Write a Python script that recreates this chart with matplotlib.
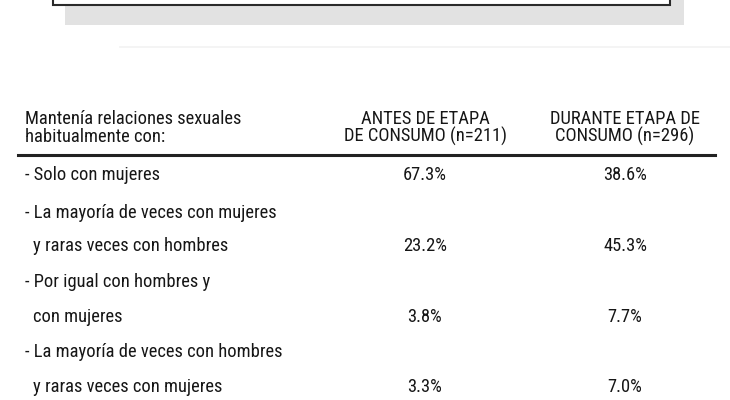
import matplotlib.pyplot as plt
from matplotlib.patches import Rectangle

plt.rcParams['font.family'] = ['Roboto Condensed', 'DejaVu Sans']

header_left = ['Mantenía relaciones sexuales', 'habitualmente con:']
col_headers = [['ANTES DE ETAPA', 'DE CONSUMO (n=211)'],
               ['DURANTE ETAPA DE', 'CONSUMO (n=296)']]

# each category label may span two printed lines; values go on the last line
categories = [['- Solo con mujeres'],
              ['- La mayoría de veces con mujeres', 'y raras veces con hombres'],
              ['- Por igual con hombres y', 'con mujeres'],
              ['- La mayoría de veces con hombres', 'y raras veces con mujeres']]
antes = [67.3, 23.2, 3.8, 3.3]
durante = [38.6, 45.3, 7.7, 7.0]

header_ys = [124, 142]
line_ys = [180, 218, 251, 287, 322, 357, 392]
col_x = [425, 625]
ink = '#161616'
fs = 13.3

fig = plt.figure(figsize=(7.3, 4.0), dpi=100)
ax = fig.add_axes([0, 0, 1, 1])
ax.set_xlim(0, 730)
ax.set_ylim(400, 0)
ax.axis('off')

# remains of the box above and its shadow
ax.add_patch(Rectangle((65, 0), 619, 25, facecolor='#e2e2e2', edgecolor='none'))
ax.add_patch(Rectangle((53, -5), 617, 10, facecolor='white', edgecolor='#2a2a2a', lw=1.5))
ax.plot([120, 730], [47, 47], color='#f2f2f2', lw=1.2)

kw = dict(fontsize=fs, color=ink, va='baseline')
for y, s in zip(header_ys, header_left):
    ax.text(25, y, s, **kw)
for x, hdr in zip(col_x, col_headers):
    for y, s in zip(header_ys, hdr):
        ax.text(x, y, s, ha='center', **kw)

ax.plot([18, 715], [154.5, 154.5], color='#222222', lw=2.2)

i = 0
for cat, a, d in zip(categories, antes, durante):
    for j, part in enumerate(cat):
        ax.text(25 if j == 0 else 33, line_ys[i], part, **kw)
        i += 1
    y = line_ys[i - 1]
    ax.text(col_x[0], y, f'{a:.1f}%', ha='center', **kw)
    ax.text(col_x[1], y, f'{d:.1f}%', ha='center', **kw)

fig.savefig('out.png', dpi=100)
